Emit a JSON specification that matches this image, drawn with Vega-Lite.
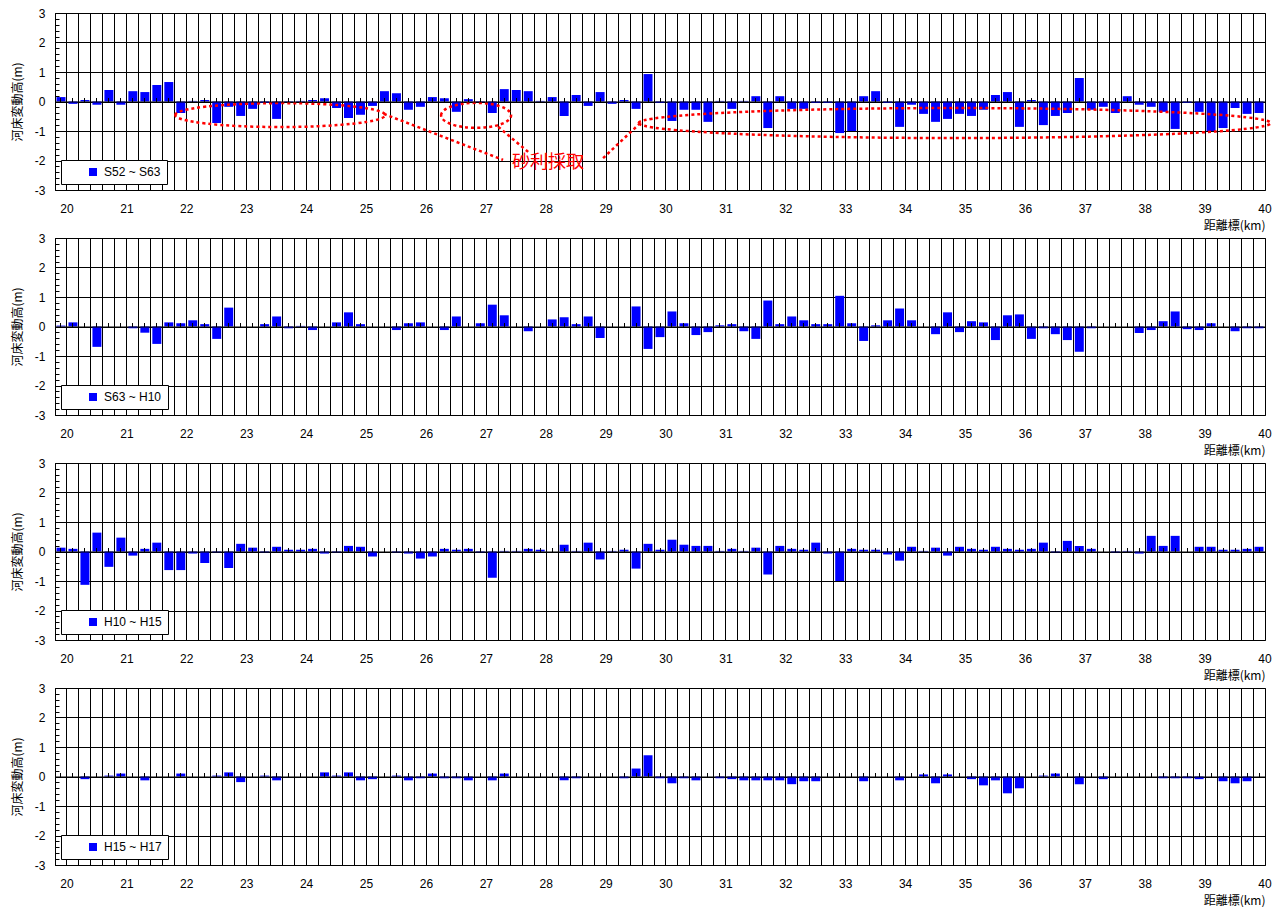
{
"$schema": "https://vega.github.io/schema/vega-lite/v6.json",
"background": "white",
"padding": {"left": 10, "top": 6, "right": 5, "bottom": 0},
"spacing": 48,
"bounds": "flush",
"config": {
 "font": "Liberation Sans",
 "view": {"stroke": "#000", "strokeWidth": 1},
 "axis": {"labelFont": "Liberation Sans", "labelFontSize": 12, "labelColor": "#000", "titleFont": "Noto Sans CJK JP", "titleFontSize": 12, "titleFontWeight": "normal", "titleColor": "#000"},
 "legend": {"orient": "bottom-left", "offset": 6, "padding": 6, "strokeColor": "#000", "fillColor": "#fff", "symbolType": "square", "symbolSize": 64, "symbolStrokeWidth": 0, "symbolOffset": 20, "labelOffset": 5, "labelFont": "Liberation Sans", "labelFontSize": 12, "labelColor": "#000", "cornerRadius": 0}
},
"resolve": {"scale": {"color": "independent"}, "legend": {"color": "independent"}},
"datasets": {
"p1": [{"km":20,"v":0.15},{"km":20.2,"v":-0.08},{"km":20.4,"v":0.05},{"km":20.6,"v":-0.11},{"km":20.8,"v":0.39},{"km":21,"v":-0.11},{"km":21.2,"v":0.35},{"km":21.4,"v":0.32},{"km":21.6,"v":0.56},{"km":21.8,"v":0.66},
{"km":22,"v":-0.39},{"km":22.2,"v":0.02},{"km":22.4,"v":0.05},{"km":22.6,"v":-0.73},{"km":22.8,"v":-0.18},{"km":23,"v":-0.49},{"km":23.2,"v":-0.25},{"km":23.4,"v":-0.05},{"km":23.6,"v":-0.59},{"km":23.8,"v":-0.02},
{"km":24,"v":0.02},{"km":24.2,"v":0.05},{"km":24.4,"v":0.11},{"km":24.6,"v":-0.22},{"km":24.8,"v":-0.56},{"km":25,"v":-0.45},{"km":25.2,"v":-0.15},{"km":25.4,"v":0.35},{"km":25.6,"v":0.28},{"km":25.8,"v":-0.28},
{"km":26,"v":-0.18},{"km":26.2,"v":0.15},{"km":26.4,"v":0.11},{"km":26.6,"v":-0.35},{"km":26.8,"v":0.08},{"km":27,"v":-0.02},{"km":27.2,"v":-0.39},{"km":27.4,"v":0.42},{"km":27.6,"v":0.39},{"km":27.8,"v":0.35},
{"km":28,"v":0.02},{"km":28.2,"v":0.15},{"km":28.4,"v":-0.49},{"km":28.6,"v":0.22},{"km":28.8,"v":-0.15},{"km":29,"v":0.32},{"km":29.2,"v":-0.08},{"km":29.4,"v":0.05},{"km":29.6,"v":-0.25},{"km":29.8,"v":0.93},
{"km":30,"v":-0.05},{"km":30.2,"v":-0.66},{"km":30.4,"v":-0.28},{"km":30.6,"v":-0.28},{"km":30.8,"v":-0.69},{"km":31,"v":0.02},{"km":31.2,"v":-0.25},{"km":31.4,"v":0.02},{"km":31.6,"v":0.18},{"km":31.8,"v":-0.9},
{"km":32,"v":0.18},{"km":32.2,"v":-0.25},{"km":32.4,"v":-0.25},{"km":32.6,"v":-0.05},{"km":32.8,"v":-0.05},{"km":33,"v":-1.07},{"km":33.2,"v":-1},{"km":33.4,"v":0.18},{"km":33.6,"v":0.35},{"km":33.8,"v":-0.05},
{"km":34,"v":-0.86},{"km":34.2,"v":-0.11},{"km":34.4,"v":-0.42},{"km":34.6,"v":-0.69},{"km":34.8,"v":-0.59},{"km":35,"v":-0.42},{"km":35.2,"v":-0.49},{"km":35.4,"v":-0.28},{"km":35.6,"v":0.22},{"km":35.8,"v":0.32},
{"km":36,"v":-0.86},{"km":36.2,"v":0.05},{"km":36.4,"v":-0.8},{"km":36.6,"v":-0.49},{"km":36.8,"v":-0.39},{"km":37,"v":0.8},{"km":37.2,"v":-0.28},{"km":37.4,"v":-0.18},{"km":37.6,"v":-0.39},{"km":37.8,"v":0.18},
{"km":38,"v":-0.11},{"km":38.2,"v":-0.18},{"km":38.4,"v":-0.35},{"km":38.6,"v":-0.93},{"km":38.8,"v":-0.05},{"km":39,"v":-0.35},{"km":39.2,"v":-1},{"km":39.4,"v":-0.9},{"km":39.6,"v":-0.22},{"km":39.8,"v":-0.42},{"km":40,"v":-0.39}],
"p2": [{"km":20,"v":0.03},{"km":20.2,"v":0.14},{"km":20.4,"v":0},{"km":20.6,"v":-0.69},{"km":20.8,"v":0},{"km":21,"v":0},{"km":21.2,"v":-0.06},{"km":21.4,"v":-0.21},{"km":21.6,"v":-0.59},{"km":21.8,"v":0.14},
{"km":22,"v":0.11},{"km":22.2,"v":0.21},{"km":22.4,"v":0.08},{"km":22.6,"v":-0.42},{"km":22.8,"v":0.64},{"km":23,"v":0},{"km":23.2,"v":0},{"km":23.4,"v":0.08},{"km":23.6,"v":0.34},{"km":23.8,"v":-0.06},
{"km":24,"v":0.02},{"km":24.2,"v":-0.12},{"km":24.4,"v":0},{"km":24.6,"v":0.14},{"km":24.8,"v":0.48},{"km":25,"v":0.08},{"km":25.2,"v":0},{"km":25.4,"v":0},{"km":25.6,"v":-0.12},{"km":25.8,"v":0.11},
{"km":26,"v":0.14},{"km":26.2,"v":0},{"km":26.4,"v":-0.12},{"km":26.6,"v":0.34},{"km":26.8,"v":0},{"km":27,"v":0.11},{"km":27.2,"v":0.74},{"km":27.4,"v":0.38},{"km":27.6,"v":0},{"km":27.8,"v":-0.16},
{"km":28,"v":0},{"km":28.2,"v":0.24},{"km":28.4,"v":0.31},{"km":28.6,"v":0.08},{"km":28.8,"v":0.34},{"km":29,"v":-0.39},{"km":29.2,"v":0},{"km":29.4,"v":0},{"km":29.6,"v":0.68},{"km":29.8,"v":-0.76},
{"km":30,"v":-0.36},{"km":30.2,"v":0.51},{"km":30.4,"v":0.11},{"km":30.6,"v":-0.29},{"km":30.8,"v":-0.19},{"km":31,"v":0.04},{"km":31.2,"v":0.08},{"km":31.4,"v":-0.16},{"km":31.6,"v":-0.42},{"km":31.8,"v":0.88},
{"km":32,"v":0.08},{"km":32.2,"v":0.34},{"km":32.4,"v":0.21},{"km":32.6,"v":0.08},{"km":32.8,"v":0.08},{"km":33,"v":1.04},{"km":33.2,"v":0.11},{"km":33.4,"v":-0.49},{"km":33.6,"v":0.04},{"km":33.8,"v":0.21},
{"km":34,"v":0.61},{"km":34.2,"v":0.21},{"km":34.4,"v":0},{"km":34.6,"v":-0.26},{"km":34.8,"v":0.48},{"km":35,"v":-0.19},{"km":35.2,"v":0.18},{"km":35.4,"v":0.14},{"km":35.6,"v":-0.46},{"km":35.8,"v":0.38},
{"km":36,"v":0.41},{"km":36.2,"v":-0.42},{"km":36.4,"v":-0.06},{"km":36.6,"v":-0.26},{"km":36.8,"v":-0.46},{"km":37,"v":-0.86},{"km":37.2,"v":-0.06},{"km":37.4,"v":0},{"km":37.6,"v":0},{"km":37.8,"v":0},
{"km":38,"v":-0.22},{"km":38.2,"v":-0.12},{"km":38.4,"v":0.18},{"km":38.6,"v":0.51},{"km":38.8,"v":-0.09},{"km":39,"v":-0.12},{"km":39.2,"v":0.11},{"km":39.4,"v":0},{"km":39.6,"v":-0.16},{"km":39.8,"v":-0.06},{"km":40,"v":-0.06}],
"p3": [{"km":20,"v":0.13},{"km":20.2,"v":0.09},{"km":20.4,"v":-1.13},{"km":20.6,"v":0.64},{"km":20.8,"v":-0.52},{"km":21,"v":0.47},{"km":21.2,"v":-0.14},{"km":21.4,"v":0.09},{"km":21.6,"v":0.3},{"km":21.8,"v":-0.63},
{"km":22,"v":-0.63},{"km":22.2,"v":-0.07},{"km":22.4,"v":-0.39},{"km":22.6,"v":-0.03},{"km":22.8,"v":-0.56},{"km":23,"v":0.26},{"km":23.2,"v":0.13},{"km":23.4,"v":-0.03},{"km":23.6,"v":0.16},{"km":23.8,"v":0.06},
{"km":24,"v":0.06},{"km":24.2,"v":0.09},{"km":24.4,"v":-0.07},{"km":24.6,"v":-0.03},{"km":24.8,"v":0.19},{"km":25,"v":0.16},{"km":25.2,"v":-0.17},{"km":25.4,"v":0},{"km":25.6,"v":-0.03},{"km":25.8,"v":-0.07},
{"km":26,"v":-0.24},{"km":26.2,"v":-0.17},{"km":26.4,"v":0.09},{"km":26.6,"v":0.06},{"km":26.8,"v":0.09},{"km":27,"v":-0.03},{"km":27.2,"v":-0.89},{"km":27.4,"v":0.02},{"km":27.6,"v":0.02},{"km":27.8,"v":0.09},
{"km":28,"v":0.06},{"km":28.2,"v":0},{"km":28.4,"v":0.23},{"km":28.6,"v":0.02},{"km":28.8,"v":0.3},{"km":29,"v":-0.27},{"km":29.2,"v":0.02},{"km":29.4,"v":0.06},{"km":29.6,"v":-0.58},{"km":29.8,"v":0.26},
{"km":30,"v":0.06},{"km":30.2,"v":0.4},{"km":30.4,"v":0.23},{"km":30.6,"v":0.19},{"km":30.8,"v":0.19},{"km":31,"v":0.02},{"km":31.2,"v":0.09},{"km":31.4,"v":0.02},{"km":31.6,"v":0.13},{"km":31.8,"v":-0.78},
{"km":32,"v":0.19},{"km":32.2,"v":0.09},{"km":32.4,"v":0.06},{"km":32.6,"v":0.3},{"km":32.8,"v":-0.07},{"km":33,"v":-1},{"km":33.2,"v":0.09},{"km":33.4,"v":0.06},{"km":33.6,"v":0.06},{"km":33.8,"v":-0.1},
{"km":34,"v":-0.31},{"km":34.2,"v":0.16},{"km":34.4,"v":0.02},{"km":34.6,"v":0.13},{"km":34.8,"v":-0.14},{"km":35,"v":0.16},{"km":35.2,"v":0.09},{"km":35.4,"v":0.06},{"km":35.6,"v":0.16},{"km":35.8,"v":0.09},
{"km":36,"v":0.06},{"km":36.2,"v":0.09},{"km":36.4,"v":0.3},{"km":36.6,"v":-0.03},{"km":36.8,"v":0.36},{"km":37,"v":0.19},{"km":37.2,"v":0.09},{"km":37.4,"v":0},{"km":37.6,"v":-0.03},{"km":37.8,"v":0.02},
{"km":38,"v":-0.07},{"km":38.2,"v":0.53},{"km":38.4,"v":0.19},{"km":38.6,"v":0.53},{"km":38.8,"v":0},{"km":39,"v":0.16},{"km":39.2,"v":0.16},{"km":39.4,"v":0.06},{"km":39.6,"v":0.06},{"km":39.8,"v":0.09},{"km":40,"v":0.16}],
"p4": [{"km":20,"v":0},{"km":20.2,"v":0},{"km":20.4,"v":-0.09},{"km":20.6,"v":0},{"km":20.8,"v":0.03},{"km":21,"v":0.1},{"km":21.2,"v":0},{"km":21.4,"v":-0.13},{"km":21.6,"v":0},{"km":21.8,"v":0},
{"km":22,"v":0.1},{"km":22.2,"v":0},{"km":22.4,"v":0},{"km":22.6,"v":0.03},{"km":22.8,"v":0.14},{"km":23,"v":-0.19},{"km":23.2,"v":0},{"km":23.4,"v":0.03},{"km":23.6,"v":-0.13},{"km":23.8,"v":0},
{"km":24,"v":0},{"km":24.2,"v":0},{"km":24.4,"v":0.14},{"km":24.6,"v":0.03},{"km":24.8,"v":0.14},{"km":25,"v":-0.13},{"km":25.2,"v":-0.09},{"km":25.4,"v":0},{"km":25.6,"v":0.03},{"km":25.8,"v":-0.13},
{"km":26,"v":-0.06},{"km":26.2,"v":0.1},{"km":26.4,"v":-0.06},{"km":26.6,"v":-0.06},{"km":26.8,"v":-0.13},{"km":27,"v":0},{"km":27.2,"v":-0.13},{"km":27.4,"v":0.1},{"km":27.6,"v":0},{"km":27.8,"v":0},
{"km":28,"v":0},{"km":28.2,"v":0},{"km":28.4,"v":-0.13},{"km":28.6,"v":-0.06},{"km":28.8,"v":0},{"km":29,"v":0},{"km":29.2,"v":0},{"km":29.4,"v":-0.06},{"km":29.6,"v":0.27},{"km":29.8,"v":0.72},
{"km":30,"v":-0.06},{"km":30.2,"v":-0.23},{"km":30.4,"v":-0.06},{"km":30.6,"v":-0.13},{"km":30.8,"v":0},{"km":31,"v":-0.06},{"km":31.2,"v":-0.09},{"km":31.4,"v":-0.13},{"km":31.6,"v":-0.13},{"km":31.8,"v":-0.13},
{"km":32,"v":-0.13},{"km":32.2,"v":-0.26},{"km":32.4,"v":-0.16},{"km":32.6,"v":-0.16},{"km":32.8,"v":0},{"km":33,"v":0},{"km":33.2,"v":0},{"km":33.4,"v":-0.16},{"km":33.6,"v":0},{"km":33.8,"v":0},
{"km":34,"v":-0.13},{"km":34.2,"v":0},{"km":34.4,"v":0.07},{"km":34.6,"v":-0.23},{"km":34.8,"v":0.07},{"km":35,"v":0},{"km":35.2,"v":-0.09},{"km":35.4,"v":-0.3},{"km":35.6,"v":-0.13},{"km":35.8,"v":-0.57},
{"km":36,"v":-0.4},{"km":36.2,"v":0},{"km":36.4,"v":0.03},{"km":36.6,"v":0.1},{"km":36.8,"v":0},{"km":37,"v":-0.26},{"km":37.2,"v":0},{"km":37.4,"v":-0.09},{"km":37.6,"v":0},{"km":37.8,"v":0},
{"km":38,"v":0},{"km":38.2,"v":0},{"km":38.4,"v":-0.06},{"km":38.6,"v":-0.06},{"km":38.8,"v":-0.06},{"km":39,"v":-0.09},{"km":39.2,"v":0},{"km":39.4,"v":-0.16},{"km":39.6,"v":-0.23},{"km":39.8,"v":-0.16},{"km":40,"v":0}]
},
"vconcat": [
{
 "width": 1210, "height": 177,
 "encoding": {
  "y": {"field": "v", "type": "quantitative", "scale": {"domain": [-3, 3], "nice": false},
   "axis": {"values": [-3,-2.8,-2.6,-2.4,-2.2,-2,-1.8,-1.6,-1.4,-1.2,-1,-0.8,-0.6,-0.4,-0.2,0,0.2,0.4,0.6,0.8,1,1.2,1.4,1.6,1.8,2,2.2,2.4,2.6,2.8,3], "labelExpr": "abs(datum.value - round(datum.value)) < 0.01 ? '' + round(datum.value) : ''", "grid": true, "gridColor": "#000", "gridWidth": 1, "gridOpacity": {"condition": {"test": "abs(datum.value - round(datum.value)) < 0.01", "value": 1}, "value": 0}, "tickSize": -4, "tickColor": "#000", "labelPadding": 14, "domain": false, "labelOverlap": false, "labelFlush": false, "labelBound": false, "title": "河床変動高(m)", "titlePadding": 10}}
 },
 "layer": [
  {"data": {"name": "p1"},
   "mark": {"type": "bar", "width": {"band": 0.75}},
   "encoding": {
    "x": {"field": "km", "type": "ordinal", "scale": {"paddingInner": 0, "paddingOuter": 0},
      "axis": {"orient": "bottom", "bandPosition": 0, "labelOffset": 6, "labelAngle": 0, "labelExpr": "datum.value % 1 === 0 ? datum.label : ''", "labelOverlap": false, "labelBound": false, "labelFlush": false, "ticks": false, "domain": false, "grid": true, "gridColor": "#000", "gridWidth": 1, "gridOpacity": 1, "labelPadding": 13, "title": "距離標(km)", "titleAnchor": "end", "titlePadding": 6}},
    "color": {"datum": "S52 ~ S63", "scale": {"range": ["#0000FF"]}, "legend": {"title": null}}
   }},
  {"data": {"name": "p1"},
   "mark": {"type": "bar", "width": {"band": 0.75}, "opacity": 0},
   "encoding": {
    "x": {"field": "km", "type": "ordinal", "scale": {"paddingInner": 0, "paddingOuter": 0},
      "axis": {"orient": "top", "offset": -88.5, "bandPosition": 0.5, "labels": false, "grid": false, "ticks": true, "tickSize": 4, "tickColor": "#000", "tickWidth": 1, "domain": true, "domainColor": "#000", "domainWidth": 1, "title": null, "zindex": 1}}
   }},
  {"data": {"values": [{"x": 23.66, "v": -0.46}]},
   "mark": {"type": "point", "filled": false, "opacity": 1, "stroke": "#FF0000", "strokeWidth": 2.5, "strokeDash": [3, 3], "size": 44100, "shape": "M-1,0C-1,-0.063,-0.552,-0.114,0,-0.114C0.552,-0.114,1,-0.063,1,0C1,0.063,0.552,0.114,0,0.114C-0.552,0.114,-1,0.063,-1,0Z"},
   "encoding": {
    "x": {"field": "x", "type": "quantitative", "scale": {"domain": [19.9, 40.1], "nice": false, "zero": false}, "axis": null}
   }},
  {"data": {"values": [{"x": 26.93, "v": -0.47}]},
   "mark": {"type": "point", "filled": false, "opacity": 1, "stroke": "#FF0000", "strokeWidth": 2.5, "strokeDash": [3, 3], "size": 4900, "shape": "M-1,0C-1,-0.197,-0.552,-0.357,0,-0.357C0.552,-0.357,1,-0.197,1,0C1,0.197,0.552,0.357,0,0.357C-0.552,0.357,-1,0.197,-1,0Z"},
   "encoding": {
    "x": {"field": "x", "type": "quantitative", "scale": {"domain": [19.9, 40.1], "nice": false, "zero": false}, "axis": null}
   }},
  {"data": {"values": [{"x": 34.92, "v": -0.73}]},
   "mark": {"type": "point", "filled": false, "opacity": 1, "stroke": "#FF0000", "strokeWidth": 2.5, "strokeDash": [3, 3], "size": 399424, "shape": "M-1,0C-1,-0.026,-0.552,-0.0475,0,-0.0475C0.552,-0.0475,1,-0.026,1,0C1,0.026,0.552,0.0475,0,0.0475C-0.552,0.0475,-1,0.026,-1,0Z"},
   "encoding": {
    "x": {"field": "x", "type": "quantitative", "scale": {"domain": [19.9, 40.1], "nice": false, "zero": false}, "axis": null}
   }},
  {"data": {"values": [{"seg":"a","x":25.39,"v":-0.42},{"seg":"a","x":27.38,"v":-1.98},{"seg":"b","x":27.3,"v":-0.86},{"seg":"b","x":27.8,"v":-1.71},{"seg":"c","x":29.05,"v":-1.92},{"seg":"c","x":29.67,"v":-0.73}]},
   "mark": {"type": "line", "stroke": "#FF0000", "strokeWidth": 2.5, "strokeDash": [3, 3]},
   "encoding": {
    "x": {"field": "x", "type": "quantitative", "scale": {"domain": [19.9, 40.1], "nice": false, "zero": false}, "axis": null},
    "detail": {"field": "seg", "type": "nominal"}
   }},
  {"data": {"values": [{"x": 28.13, "v": -2.1, "t": "砂利採取"}]},
   "mark": {"type": "text", "font": "Noto Sans CJK JP", "fontSize": 18, "color": "#FF0000", "align": "center", "baseline": "middle"},
   "encoding": {
    "x": {"field": "x", "type": "quantitative", "scale": {"domain": [19.9, 40.1], "nice": false, "zero": false}, "axis": null},
    "text": {"field": "t", "type": "nominal"}
   }}
 ],
 "resolve": {"scale": {"x": "independent"}, "axis": {"x": "independent"}}
},
{
 "width": 1210, "height": 177,
 "data": {"name": "p2"},
 "encoding": {
  "y": {"field": "v", "type": "quantitative", "scale": {"domain": [-3, 3], "nice": false},
   "axis": {"values": [-3,-2.8,-2.6,-2.4,-2.2,-2,-1.8,-1.6,-1.4,-1.2,-1,-0.8,-0.6,-0.4,-0.2,0,0.2,0.4,0.6,0.8,1,1.2,1.4,1.6,1.8,2,2.2,2.4,2.6,2.8,3], "labelExpr": "abs(datum.value - round(datum.value)) < 0.01 ? '' + round(datum.value) : ''", "grid": true, "gridColor": "#000", "gridWidth": 1, "gridOpacity": {"condition": {"test": "abs(datum.value - round(datum.value)) < 0.01", "value": 1}, "value": 0}, "tickSize": -4, "tickColor": "#000", "labelPadding": 14, "domain": false, "labelOverlap": false, "labelFlush": false, "labelBound": false, "title": "河床変動高(m)", "titlePadding": 10}}
 },
 "layer": [
  {"mark": {"type": "bar", "width": {"band": 0.75}},
   "encoding": {
    "x": {"field": "km", "type": "ordinal", "scale": {"paddingInner": 0, "paddingOuter": 0},
      "axis": {"orient": "bottom", "bandPosition": 0, "labelOffset": 6, "labelAngle": 0, "labelExpr": "datum.value % 1 === 0 ? datum.label : ''", "labelOverlap": false, "labelBound": false, "labelFlush": false, "ticks": false, "domain": false, "grid": true, "gridColor": "#000", "gridWidth": 1, "gridOpacity": 1, "labelPadding": 13, "title": "距離標(km)", "titleAnchor": "end", "titlePadding": 6}},
    "color": {"datum": "S63 ~ H10", "scale": {"range": ["#0000FF"]}, "legend": {"title": null}}
   }},
  {"mark": {"type": "bar", "width": {"band": 0.75}, "opacity": 0},
   "encoding": {
    "x": {"field": "km", "type": "ordinal", "scale": {"paddingInner": 0, "paddingOuter": 0},
      "axis": {"orient": "top", "offset": -88.5, "bandPosition": 0.5, "labels": false, "grid": false, "ticks": true, "tickSize": 4, "tickColor": "#000", "tickWidth": 1, "domain": true, "domainColor": "#000", "domainWidth": 1, "title": null, "zindex": 1}}
   }}
 ],
 "resolve": {"axis": {"x": "independent"}}
},
{
 "width": 1210, "height": 177,
 "data": {"name": "p3"},
 "encoding": {
  "y": {"field": "v", "type": "quantitative", "scale": {"domain": [-3, 3], "nice": false},
   "axis": {"values": [-3,-2.8,-2.6,-2.4,-2.2,-2,-1.8,-1.6,-1.4,-1.2,-1,-0.8,-0.6,-0.4,-0.2,0,0.2,0.4,0.6,0.8,1,1.2,1.4,1.6,1.8,2,2.2,2.4,2.6,2.8,3], "labelExpr": "abs(datum.value - round(datum.value)) < 0.01 ? '' + round(datum.value) : ''", "grid": true, "gridColor": "#000", "gridWidth": 1, "gridOpacity": {"condition": {"test": "abs(datum.value - round(datum.value)) < 0.01", "value": 1}, "value": 0}, "tickSize": -4, "tickColor": "#000", "labelPadding": 14, "domain": false, "labelOverlap": false, "labelFlush": false, "labelBound": false, "title": "河床変動高(m)", "titlePadding": 10}}
 },
 "layer": [
  {"mark": {"type": "bar", "width": {"band": 0.75}},
   "encoding": {
    "x": {"field": "km", "type": "ordinal", "scale": {"paddingInner": 0, "paddingOuter": 0},
      "axis": {"orient": "bottom", "bandPosition": 0, "labelOffset": 6, "labelAngle": 0, "labelExpr": "datum.value % 1 === 0 ? datum.label : ''", "labelOverlap": false, "labelBound": false, "labelFlush": false, "ticks": false, "domain": false, "grid": true, "gridColor": "#000", "gridWidth": 1, "gridOpacity": 1, "labelPadding": 13, "title": "距離標(km)", "titleAnchor": "end", "titlePadding": 6}},
    "color": {"datum": "H10 ~ H15", "scale": {"range": ["#0000FF"]}, "legend": {"title": null}}
   }},
  {"mark": {"type": "bar", "width": {"band": 0.75}, "opacity": 0},
   "encoding": {
    "x": {"field": "km", "type": "ordinal", "scale": {"paddingInner": 0, "paddingOuter": 0},
      "axis": {"orient": "top", "offset": -88.5, "bandPosition": 0.5, "labels": false, "grid": false, "ticks": true, "tickSize": 4, "tickColor": "#000", "tickWidth": 1, "domain": true, "domainColor": "#000", "domainWidth": 1, "title": null, "zindex": 1}}
   }}
 ],
 "resolve": {"axis": {"x": "independent"}}
},
{
 "width": 1210, "height": 177,
 "data": {"name": "p4"},
 "encoding": {
  "y": {"field": "v", "type": "quantitative", "scale": {"domain": [-3, 3], "nice": false},
   "axis": {"values": [-3,-2.8,-2.6,-2.4,-2.2,-2,-1.8,-1.6,-1.4,-1.2,-1,-0.8,-0.6,-0.4,-0.2,0,0.2,0.4,0.6,0.8,1,1.2,1.4,1.6,1.8,2,2.2,2.4,2.6,2.8,3], "labelExpr": "abs(datum.value - round(datum.value)) < 0.01 ? '' + round(datum.value) : ''", "grid": true, "gridColor": "#000", "gridWidth": 1, "gridOpacity": {"condition": {"test": "abs(datum.value - round(datum.value)) < 0.01", "value": 1}, "value": 0}, "tickSize": -4, "tickColor": "#000", "labelPadding": 14, "domain": false, "labelOverlap": false, "labelFlush": false, "labelBound": false, "title": "河床変動高(m)", "titlePadding": 10}}
 },
 "layer": [
  {"mark": {"type": "bar", "width": {"band": 0.75}},
   "encoding": {
    "x": {"field": "km", "type": "ordinal", "scale": {"paddingInner": 0, "paddingOuter": 0},
      "axis": {"orient": "bottom", "bandPosition": 0, "labelOffset": 6, "labelAngle": 0, "labelExpr": "datum.value % 1 === 0 ? datum.label : ''", "labelOverlap": false, "labelBound": false, "labelFlush": false, "ticks": false, "domain": false, "grid": true, "gridColor": "#000", "gridWidth": 1, "gridOpacity": 1, "labelPadding": 13, "title": "距離標(km)", "titleAnchor": "end", "titlePadding": 6}},
    "color": {"datum": "H15 ~ H17", "scale": {"range": ["#0000FF"]}, "legend": {"title": null}}
   }},
  {"mark": {"type": "bar", "width": {"band": 0.75}, "opacity": 0},
   "encoding": {
    "x": {"field": "km", "type": "ordinal", "scale": {"paddingInner": 0, "paddingOuter": 0},
      "axis": {"orient": "top", "offset": -88.5, "bandPosition": 0.5, "labels": false, "grid": false, "ticks": true, "tickSize": 4, "tickColor": "#000", "tickWidth": 1, "domain": true, "domainColor": "#000", "domainWidth": 1, "title": null, "zindex": 1}}
   }}
 ],
 "resolve": {"axis": {"x": "independent"}}
}
]
}
